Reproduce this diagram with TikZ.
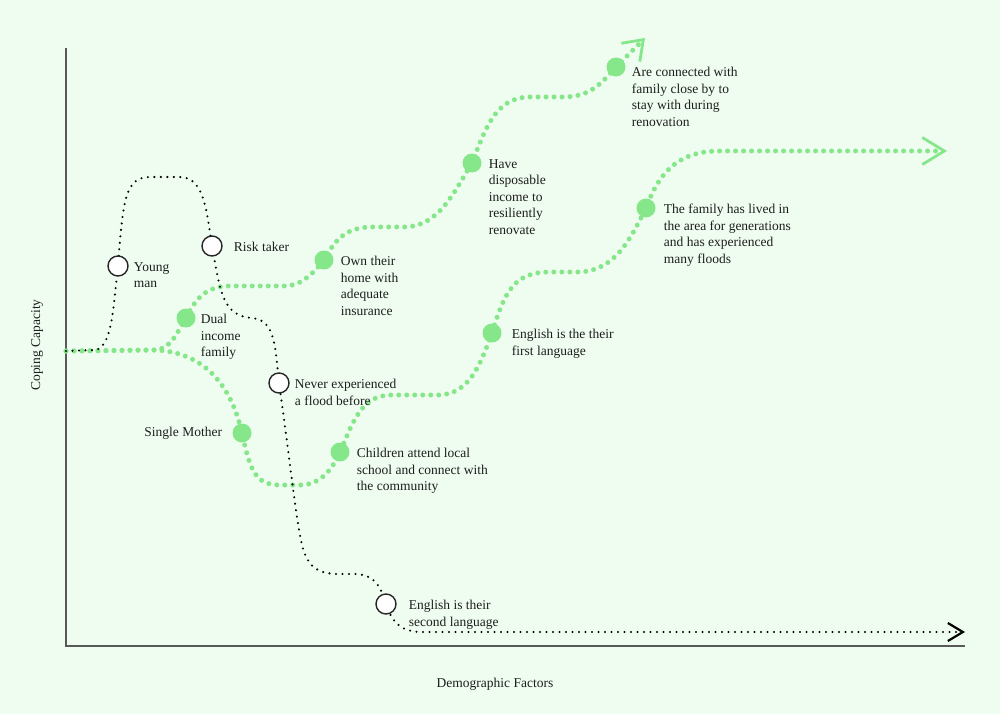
\documentclass[tikz,border=0pt]{standalone}
\usepackage{fontspec}
\setmainfont{Liberation Serif}
\usepackage{tikz}
\usetikzlibrary{positioning,arrows.meta,backgrounds}
\definecolor{paper}{HTML}{EFFCF0}
\definecolor{leaf}{HTML}{86E78A}
\definecolor{ink}{HTML}{1E1E1E}

\begin{document}
\begin{tikzpicture}[
    x=1pt, y=-1pt,
    every node/.style={font=\fontsize{13.5}{16.6}\selectfont, text=ink},
    openpt/.style={circle, draw=black!85, line width=1.4pt, fill=white, minimum size=20pt, inner sep=0pt},
    fullpt/.style={circle, fill=leaf, minimum size=19pt, inner sep=0pt},
    note/.style={anchor=north west, align=left, inner sep=0pt, yshift=4pt},
    darktrail/.style={line width=2.3pt, line cap=round, dash pattern=on 0pt off 6.5pt, black},
    greentrail/.style={line width=5pt, line cap=round, dash pattern=on 0pt off 8pt, leaf},
    axis/.style={line width=1.4pt, black!65}
]
\useasboundingbox (0,0) rectangle (1000,714);

% axes
\coordinate (top) at (66,48);
\coordinate (orig) at (66,646);
\coordinate (xend) at (965,646);
\node[rotate=90] (ylab) at (37,345) {Coping Capacity};
\node (xlab) at (495,684) {Demographic Factors};

% points on the curves
\coordinate (start) at (66,351);
\coordinate (fork) at (155,350);
\node[openpt] (ym) at (118,266) {};
\node[openpt] (rt) at (212,246) {};
\node[openpt] (ne) at (279,383) {};
\node[openpt] (es) at (386,604) {};
\node[fullpt] (di) at (186,318) {};
\node[fullpt] (own) at (324,260) {};
\node[fullpt] (have) at (472,163) {};
\node[fullpt] (conn) at (616,67) {};
\node[fullpt] (sm) at (242,433) {};
\node[fullpt] (kids) at (340,452) {};
\node[fullpt] (eng) at (492,333) {};
\node[fullpt] (gen) at (646,208) {};
\coordinate (upend) at (645,38);
\coordinate (midend) at (947,151);
\coordinate (lowend) at (965,632);

% labels
\node[right=5pt of ym, note] (ymtxt) {Young\\man};
\node[right=11pt of rt, note] (rttxt) {Risk taker};
\node[right=5pt of ne, note] (netxt) {Never experienced\\a flood before};
\node[right=12pt of es, note] (estxt) {English is their\\second language};
\node[right=5pt of di, note] (ditxt) {Dual\\income\\family};
\node[right=7pt of own, note] (owntxt) {Own their\\home with\\adequate\\insurance};
\node[right=7pt of have, note] (havetxt) {Have\\disposable\\income to\\resiliently\\renovate};
\node[right=6pt of conn, note, yshift=-4pt] (conntxt) {Are connected with\\family close by to\\stay with during\\renovation};
\node[left=10pt of sm, inner sep=0pt] (smtxt) {Single Mother};
\node[right=7pt of kids, note] (kidstxt) {Children attend local\\school and connect with\\the community};
\node[right=10pt of eng, note] (engtxt) {English is the their\\first language};
\node[right=8pt of gen, note] (gentxt) {The family has lived in\\the area for generations\\and has experienced\\many floods};

\begin{scope}[on background layer]
\fill[paper] (0,0) rectangle (1000,714);
\draw[axis] (top) -- (orig) -- (xend);
% upper green route
\draw[greentrail, -{Straight Barb[length=18pt,width=26pt,line width=2.8pt]}]
  (start) -- (fork) .. controls (172,349) and (178,330) .. (di.center)
  .. controls (195,300) and (205,286) .. (230,286) -- (285,286)
  .. controls (300,286) and (312,275) .. (own.center)
  .. controls (335,240) and (345,228) .. (370,227) -- (405,227)
  .. controls (440,226) and (455,190) .. (have.center)
  .. controls (485,130) and (495,97) .. (530,97) -- (565,97)
  .. controls (590,96) and (600,85) .. (conn.center) -- (upend);
% lower green route
\draw[greentrail, -{Straight Barb[length=22pt,width=27pt,line width=2.8pt]}]
  (start) -- (fork) .. controls (200,352) and (230,380) .. (sm.center)
  .. controls (250,470) and (255,485) .. (280,485) -- (300,485)
  .. controls (320,485) and (332,470) .. (kids.center)
  .. controls (352,425) and (360,396) .. (390,395) -- (440,395)
  .. controls (470,393) and (480,365) .. (eng.center)
  .. controls (505,290) and (515,272) .. (550,272) -- (580,272)
  .. controls (615,270) and (630,240) .. (gen.center)
  .. controls (660,170) and (680,151) .. (720,151) -- (midend);
% black route
\draw[darktrail, -{Straight Barb[length=15pt,width=18pt,line width=2.2pt]}]
  (start) -- (96,350) .. controls (112,345) and (113,310) .. (ym.center)
  .. controls (123,200) and (125,177) .. (150,177) -- (180,177)
  .. controls (205,177) and (207,215) .. (rt.center)
  .. controls (220,290) and (222,316) .. (252,318)
  .. controls (275,320) and (275,345) .. (ne.center)
  .. controls (290,460) and (296,520) .. (302,545)
  .. controls (308,568) and (318,574) .. (340,574) -- (355,574)
  .. controls (375,575) and (380,585) .. (es.center)
  .. controls (392,622) and (400,631) .. (420,632) -- (lowend);
\end{scope}
\end{tikzpicture}
\end{document}
